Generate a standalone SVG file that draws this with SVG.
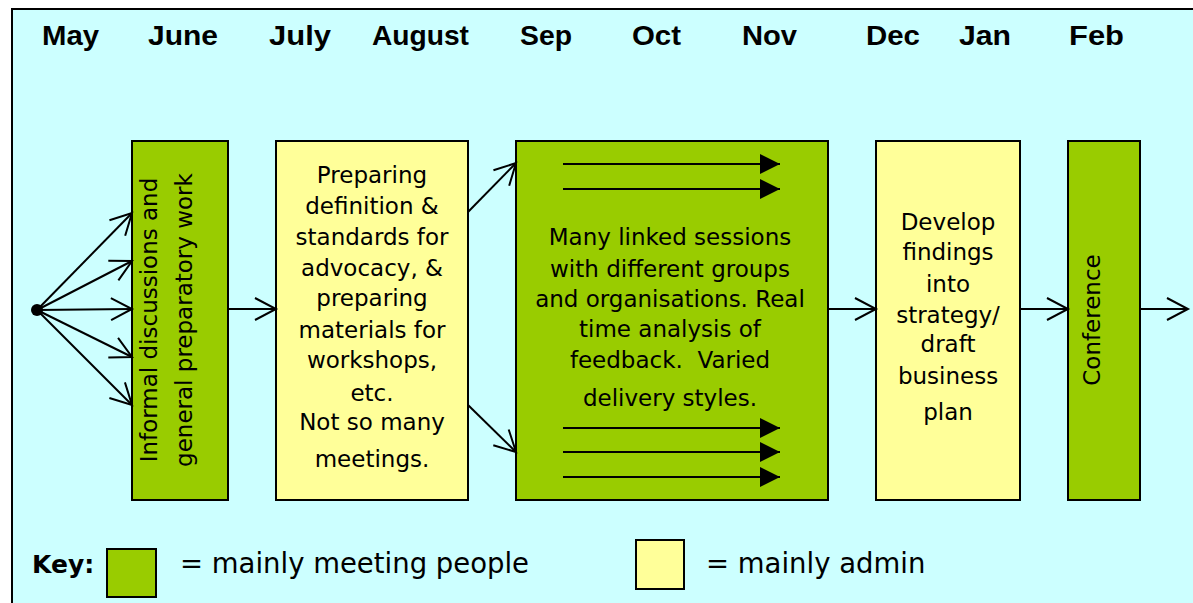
<svg xmlns="http://www.w3.org/2000/svg" width="1193" height="603" viewBox="0 0 1193 603">
  <style>
    .month { font-family: "Liberation Sans", Arial, sans-serif; font-weight: bold; font-size: 28px; fill: #000; }
    .body { font-family: "DejaVu Sans", Verdana, sans-serif; font-size: 23px; fill: #000; text-anchor: middle; }
    .key { font-family: "DejaVu Sans", Verdana, sans-serif; font-size: 27.5px; fill: #000; }
    .keyb { font-family: "DejaVu Sans", Verdana, sans-serif; font-size: 25px; font-weight: bold; fill: #000; }
    .green { fill: #99CC00; stroke: #000; stroke-width: 2; }
    .yellow { fill: #FFFF99; stroke: #000; stroke-width: 2; }
    .conn { fill: none; stroke: #000; stroke-width: 2; }
  </style>
  <defs>
    <marker id="open" markerUnits="userSpaceOnUse" markerWidth="26" markerHeight="28" refX="22" refY="13" orient="auto" overflow="visible">
      <path d="M1,2 L22,13 L1,24" fill="none" stroke="#000" stroke-width="2"/>
    </marker>
    <marker id="solid" markerUnits="userSpaceOnUse" markerWidth="22" markerHeight="22" refX="20" refY="10" orient="auto" overflow="visible">
      <path d="M0,0 L20,10 L0,20 Z" fill="#000"/>
    </marker>
  </defs>
  <rect x="0" y="0" width="1193" height="603" fill="#FFFFFF"/>
  <rect id="frame" x="12" y="9" width="1200" height="620" fill="#CCFFFF" stroke="#000" stroke-width="2"/>

  <g id="months">
    <text class="month" x="42" y="45" textLength="57" lengthAdjust="spacingAndGlyphs">May</text>
    <text class="month" x="148" y="45" textLength="70" lengthAdjust="spacingAndGlyphs">June</text>
    <text class="month" x="269" y="45" textLength="62" lengthAdjust="spacingAndGlyphs">July</text>
    <text class="month" x="372" y="45" textLength="97" lengthAdjust="spacingAndGlyphs">August</text>
    <text class="month" x="520" y="45" textLength="52" lengthAdjust="spacingAndGlyphs">Sep</text>
    <text class="month" x="632" y="45" textLength="49" lengthAdjust="spacingAndGlyphs">Oct</text>
    <text class="month" x="742" y="45" textLength="55" lengthAdjust="spacingAndGlyphs">Nov</text>
    <text class="month" x="866" y="45" textLength="54" lengthAdjust="spacingAndGlyphs">Dec</text>
    <text class="month" x="959" y="45" textLength="52" lengthAdjust="spacingAndGlyphs">Jan</text>
    <text class="month" x="1069" y="45" textLength="55" lengthAdjust="spacingAndGlyphs">Feb</text>
  </g>

  <g id="start">
    <circle cx="37" cy="310" r="6" fill="#000"/>
  </g>

  <g id="n1">
    <rect class="green" x="132" y="141" width="96" height="359"/>
    <text class="body" transform="translate(157,320) rotate(-90)" x="0" y="0">Informal discussions and</text>
    <text class="body" transform="translate(192,320) rotate(-90)" x="0" y="0">general preparatory work</text>
  </g>

  <g id="n2">
    <rect class="yellow" x="276" y="141" width="192" height="359"/>
    <text class="body" x="372" y="183">Preparing</text>
    <text class="body" x="372" y="214">definition &amp;</text>
    <text class="body" x="372" y="245">standards for</text>
    <text class="body" x="372" y="276">advocacy, &amp;</text>
    <text class="body" x="372" y="306">preparing</text>
    <text class="body" x="372" y="338">materials for</text>
    <text class="body" x="372" y="368">workshops,</text>
    <text class="body" x="372" y="401">etc.</text>
    <text class="body" x="372" y="430">Not so many</text>
    <text class="body" x="372" y="467">meetings.</text>
  </g>

  <g id="n3">
    <rect class="green" x="516" y="141" width="312" height="359"/>
    <text class="body" x="670" y="245">Many linked sessions</text>
    <text class="body" x="670" y="277">with different groups</text>
    <text class="body" x="670" y="307">and organisations. Real</text>
    <text class="body" x="670" y="337">time analysis of</text>
    <text class="body" x="670" y="368" xml:space="preserve">feedback.  Varied</text>
    <text class="body" x="670" y="406">delivery styles.</text>
  </g>

  <g id="n4">
    <rect class="yellow" x="876" y="141" width="144" height="359"/>
    <text class="body" x="948" y="230">Develop</text>
    <text class="body" x="948" y="260">findings</text>
    <text class="body" x="948" y="292">into</text>
    <text class="body" x="948" y="323">strategy/</text>
    <text class="body" x="948" y="352">draft</text>
    <text class="body" x="948" y="384">business</text>
    <text class="body" x="948" y="420">plan</text>
  </g>

  <g id="n5">
    <rect class="green" x="1068" y="141" width="72" height="359"/>
    <text class="body" transform="translate(1100,320) rotate(-90)" x="0" y="0">Conference</text>
  </g>

  <g id="connectors">
    <line class="conn" x1="37" y1="310" x2="132" y2="213" marker-end="url(#open)"/>
    <line class="conn" x1="37" y1="310" x2="132" y2="261" marker-end="url(#open)"/>
    <line class="conn" x1="37" y1="310" x2="132" y2="309" marker-end="url(#open)"/>
    <line class="conn" x1="37" y1="310" x2="132" y2="357" marker-end="url(#open)"/>
    <line class="conn" x1="37" y1="310" x2="132" y2="405" marker-end="url(#open)"/>
    <line class="conn" x1="228" y1="309" x2="276" y2="309" marker-end="url(#open)"/>
    <line class="conn" x1="468" y1="212" x2="516" y2="163" marker-end="url(#open)"/>
    <line class="conn" x1="468" y1="405" x2="516" y2="452" marker-end="url(#open)"/>
    <line class="conn" x1="828" y1="309" x2="876" y2="309" marker-end="url(#open)"/>
    <line class="conn" x1="1020" y1="309" x2="1068" y2="309" marker-end="url(#open)"/>
    <line class="conn" x1="1140" y1="309" x2="1188" y2="309" marker-end="url(#open)"/>
    <line class="conn" x1="563" y1="164" x2="780" y2="164" marker-end="url(#solid)"/>
    <line class="conn" x1="563" y1="189" x2="780" y2="189" marker-end="url(#solid)"/>
    <line class="conn" x1="563" y1="428" x2="780" y2="428" marker-end="url(#solid)"/>
    <line class="conn" x1="563" y1="452" x2="780" y2="452" marker-end="url(#solid)"/>
    <line class="conn" x1="563" y1="477" x2="780" y2="477" marker-end="url(#solid)"/>
  </g>

  <g id="key">
    <text class="keyb" x="32" y="573">Key:</text>
    <rect class="green" x="107" y="549" width="49" height="48"/>
    <text class="key" x="180" y="573">= mainly meeting people</text>
    <rect class="yellow" x="636" y="540" width="48" height="49"/>
    <text class="key" x="706" y="573">= mainly admin</text>
  </g>
</svg>
